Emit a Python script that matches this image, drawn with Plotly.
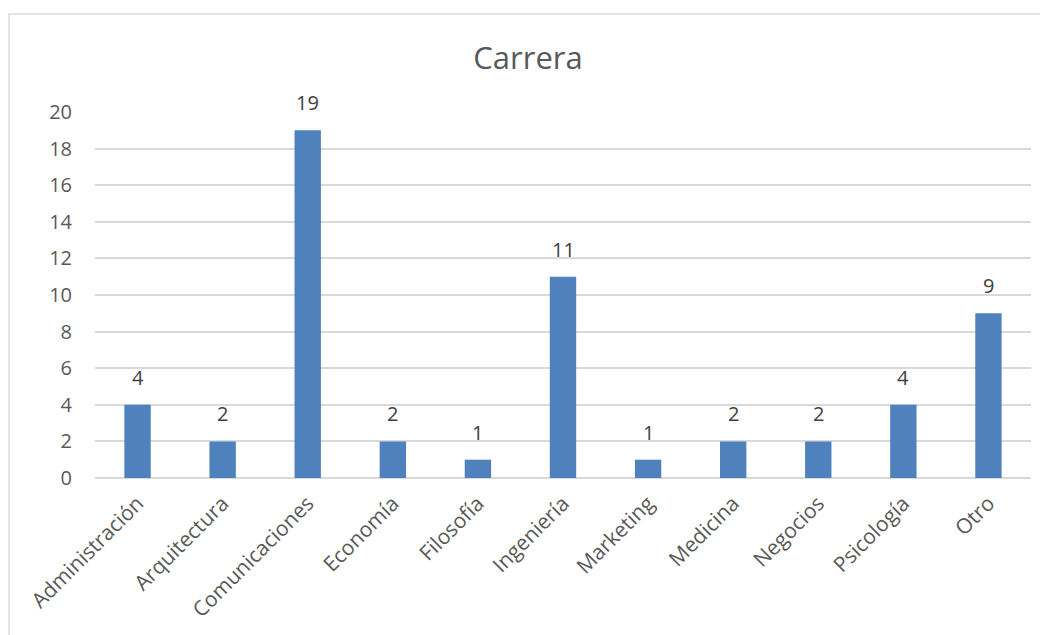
import plotly.graph_objects as go

categories = ["Administración", "Arquitectura", "Comunicaciones", "Economía", "Filosofía",
              "Ingeniería", "Marketing", "Medicina", "Negocios", "Psicología", "Otro"]
values = [4, 2, 19, 2, 1, 11, 1, 2, 2, 4, 9]
y_ticks = [0, 2, 4, 6, 8, 10, 12, 14, 16, 18, 20]

OFF = 8  # page body margin
W, H = 1048 - OFF, 635 - OFF
# reference pixel positions (in screenshot coordinates)
plot_left, plot_right, plot_top, plot_bottom = 95, 1031, 112, 478
L = plot_left - OFF
R = W - (plot_right - OFF)
T = plot_top - OFF
B = H - (plot_bottom - OFF)
pw, ph = W - L - R, H - T - B

def px_x(p):
    return (p - plot_left) / pw

def px_y(p):
    return (plot_bottom - p) / ph

FONT = "Open Sans, sans-serif"

fig = go.Figure()
fig.add_trace(go.Bar(
    x=categories, y=values, marker=dict(color="#4f81bd", line=dict(width=0)),
    width=0.31,
))
for c, v in zip(categories, values):
    fig.add_annotation(x=c, y=v, text=str(v), showarrow=False, yanchor="bottom",
                       yshift=12, font=dict(family=FONT, size=20, color="#404040"))

fig.update_layout(
    width=W, height=H,
    margin=dict(l=L, r=R, t=T, b=B),
    paper_bgcolor="white", plot_bgcolor="white",
    showlegend=False,
    title=dict(text="Carrera", x=0.5, xanchor="center", y=1 - (58 - OFF) / H, yanchor="middle",
               font=dict(family=FONT, size=31, color="#595959")),
    xaxis=dict(tickangle=-45, showgrid=False, showline=False, ticks="", ticklabelstandoff=8,
               tickfont=dict(family=FONT, size=21, color="#595959")),
    yaxis=dict(range=[0, 20], tickvals=y_ticks, showgrid=True, gridcolor="#d9d9d9",
               gridwidth=1.5, zeroline=True, zerolinecolor="#d9d9d9", zerolinewidth=2,
               showline=False, ticks="", ticklabelstandoff=22,
               tickfont=dict(family=FONT, size=20, color="#595959")),
    shapes=[dict(type="rect", xref="paper", yref="paper",
                 x0=px_x(9), x1=px_x(1070), y0=px_y(660), y1=px_y(14),
                 line=dict(color="#d9d9d9", width=1.5), fillcolor="rgba(0,0,0,0)", layer="below")],
)

fig.write_html("out.html")
